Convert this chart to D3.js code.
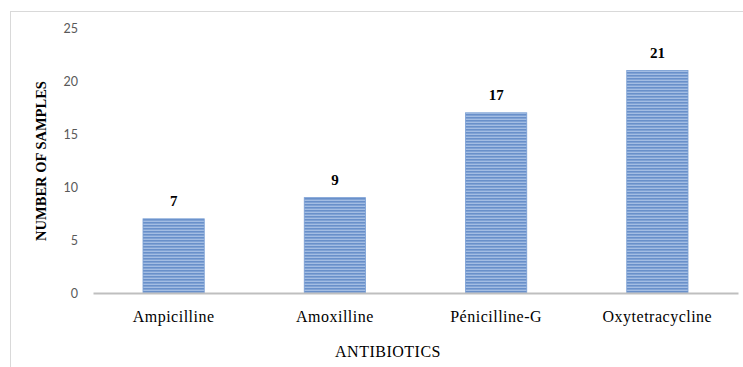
<!DOCTYPE html>
<html><head><meta charset="utf-8">
<script src="https://cdn.jsdelivr.net/npm/d3@7"></script>
<style>body{margin:0;background:#fff}svg{display:block}</style>
</head><body>
<script>
const categories = ["Ampicilline", "Amoxilline", "Pénicilline-G", "Oxytetracycline"];
const values = [7, 9, 17, 21];
const yTicks = [0, 5, 10, 15, 20, 25];
const xTitle = "ANTIBIOTICS";
const yTitle = "NUMBER OF SAMPLES";

const W = 743, H = 367;
const svg = d3.select("body").append("svg").attr("width", W).attr("height", H);

const defs = svg.append("defs");
const pat = defs.append("pattern").attr("id", "stripes").attr("patternUnits", "userSpaceOnUse")
  .attr("width", 6).attr("height", 3);
pat.append("rect").attr("width", 6).attr("height", 3).attr("fill", "#a3bde3");
pat.append("rect").attr("y", 0).attr("width", 6).attr("height", 1.6).attr("fill", "#6990ca");

// chart border
svg.append("rect").attr("x", 10.5).attr("y", 11.5).attr("width", W).attr("height", H)
  .attr("fill", "none").attr("stroke", "#d9d9d9").attr("stroke-width", 1);

const x = d3.scaleBand().domain(categories).range([93, 738]).paddingInner(0.62).paddingOuter(0.31);
const y = d3.scaleLinear().domain([0, 25]).range([293, 28]);

// y tick labels
const yAxis = d3.axisLeft(y).tickValues(yTicks).tickSize(0).tickPadding(0);
const gy = svg.append("g").attr("transform", "translate(78,0)").call(yAxis);
gy.select(".domain").remove();
gy.selectAll("text").attr("font-family", "Lato, 'Open Sans', sans-serif").attr("font-size", 12.5)
  .attr("fill", "#595959");

// bars
svg.append("g").selectAll("rect").data(values).join("rect")
  .attr("x", (d, i) => x(categories[i]))
  .attr("y", d => y(d))
  .attr("width", x.bandwidth())
  .attr("height", d => y(0) - y(d))
  .attr("fill", "url(#stripes)")
  .attr("stroke", "#7a9fd4").attr("stroke-width", 0.8);

// x axis
const xAxis = d3.axisBottom(x).tickSize(0).tickPadding(0);
const gx = svg.append("g").attr("transform", "translate(0,293)").call(xAxis);
gx.select(".domain").attr("stroke", "#bfbfbf").attr("stroke-width", 2);
gx.selectAll("text").attr("font-family", "'Liberation Serif', 'Times New Roman', serif")
  .attr("font-size", 16).attr("letter-spacing", 0.5).attr("fill", "#000").attr("dy", null).attr("y", 29);

// value labels
svg.append("g").selectAll("text").data(values).join("text")
  .attr("x", (d, i) => x(categories[i]) + x.bandwidth() / 2)
  .attr("y", d => y(d) - 12.5)
  .attr("text-anchor", "middle")
  .attr("font-family", "'Liberation Serif', 'Times New Roman', serif")
  .attr("font-weight", "bold").attr("font-size", 15)
  .text(d => d);

// axis titles
svg.append("text").attr("x", 388).attr("y", 357).attr("text-anchor", "middle")
  .attr("font-family", "'Liberation Serif', 'Times New Roman', serif").attr("font-size", 16)
  .attr("letter-spacing", 0.5)
  .text(xTitle);
svg.append("text").attr("transform", "translate(46,161) rotate(-90)").attr("text-anchor", "middle")
  .attr("font-family", "'Liberation Serif', 'Times New Roman', serif").attr("font-size", 14.5)
  .attr("font-weight", "bold")
  .text(yTitle);
</script>
</body></html>
